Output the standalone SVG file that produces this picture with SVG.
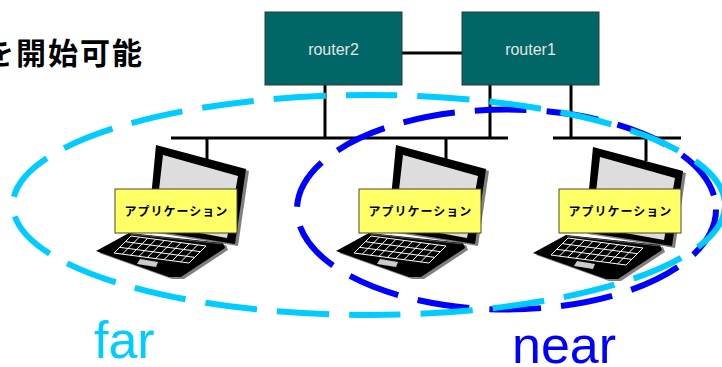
<svg xmlns="http://www.w3.org/2000/svg" xmlns:xlink="http://www.w3.org/1999/xlink" width="722" height="367" viewBox="0 0 722 367">
<style>
.router{fill:#006666;stroke:#2a3a3a;stroke-width:1}
.rtext{font-family:"Liberation Sans",Arial,sans-serif;font-size:16px;fill:#E4E4E4;text-anchor:middle}
.wire{stroke:#000;stroke-width:3;fill:none}
.label{fill:#FFFF66;stroke:#4a4a2a;stroke-width:1}
.ltext{font-family:"Noto Sans CJK JP","Noto Sans",sans-serif;font-size:12px;font-weight:bold;fill:#000;text-anchor:middle;letter-spacing:1px}
.far{fill:none;stroke:#00CCFF;stroke-width:6;stroke-dasharray:52 20}
.near{fill:none;stroke:#0000FF;stroke-width:6;stroke-dasharray:52 20}
.grid{fill:none;stroke:#fff;stroke-width:1}
</style>
<defs>
<g id="laptop">
  <polygon points="3,2 93,26 82,101 -5,87" fill="#808080"/>
  <polygon points="-24,90 70,100 72,105 28,134 16,134 -57,108" fill="#808080"/>
  <polygon points="0,0 90,24 79,99 -8,85" fill="#000"/>
  <polygon points="7,10 82,31 71,93 -1,80" fill="#DDDDDD"/>
  <polygon points="-27,88 67,98 69,103 25,132 13,132 -60,106" fill="#000"/>
  <line x1="-26" y1="89" x2="67" y2="99" stroke="#555" stroke-width="1"/>
  <g transform="matrix(8.333,1.111,-5.667,5.667,-25,91)" class="grid">
    <rect x="0" y="0" width="9" height="3" vector-effect="non-scaling-stroke"/>
    <path d="M0,1H9M0,2H9M1,0V3M2,0V3M3,0V3M4,0V3M5,0V3M6,0V3M7,0V3M8,0V3" vector-effect="non-scaling-stroke"/>
  </g>
  <polygon points="-16,114 2,117 0,122 -19,119" fill="#CCCCCC"/>
</g>
</defs>

<text x="-16" y="64" font-family="'Noto Sans CJK JP','Noto Sans',sans-serif" font-size="30" font-weight="bold" letter-spacing="2" fill="#000">を開始可能</text>

<g id="connectors">
  <line class="wire" x1="402" y1="53" x2="462" y2="53"/>
  <line class="wire" x1="325" y1="85" x2="325" y2="138"/>
  <line class="wire" x1="490" y1="85" x2="490" y2="138"/>
  <line class="wire" x1="571" y1="85" x2="571" y2="138"/>
  <line class="wire" x1="171" y1="138" x2="508" y2="138"/>
  <line class="wire" x1="553" y1="138" x2="681" y2="138"/>
  <line class="wire" x1="207" y1="138" x2="207" y2="159"/>
  <line class="wire" x1="446" y1="138" x2="446" y2="159"/>
  <line class="wire" x1="646" y1="138" x2="646" y2="161"/>
</g>

<g id="router2">
  <rect class="router" x="265" y="12" width="137" height="73"/>
  <text class="rtext" x="333.5" y="55">router2</text>
</g>
<g id="router1">
  <rect class="router" x="462" y="12" width="137" height="73"/>
  <text class="rtext" x="530.5" y="55">router1</text>
</g>

<g id="pc1">
  <use xlink:href="#laptop" x="156" y="145"/>
  <rect class="label" x="115" y="189" width="122" height="44"/>
  <text class="ltext" x="176.5" y="216">アプリケーション</text>
</g>
<g id="pc2">
  <use xlink:href="#laptop" x="396" y="145"/>
  <rect class="label" x="359" y="189" width="122" height="44"/>
  <text class="ltext" x="420.5" y="216">アプリケーション</text>
</g>
<g id="pc3">
  <use xlink:href="#laptop" x="593" y="147"/>
  <rect class="label" x="559" y="189" width="122" height="44"/>
  <text class="ltext" x="620.5" y="216">アプリケーション</text>
</g>

<g id="near-group">
  <ellipse class="near" cx="506.5" cy="209.5" rx="209.5" ry="100"/>
  <text x="512" y="363" font-family="'Liberation Sans',Arial,sans-serif" font-size="52" fill="#0000FF">near</text>
</g>
<g id="far-group">
  <ellipse class="far" cx="369" cy="205" rx="356" ry="110"/>
  <text x="94" y="358" font-family="'Liberation Sans',Arial,sans-serif" font-size="52" fill="#00CCFF">far</text>
</g>
</svg>
